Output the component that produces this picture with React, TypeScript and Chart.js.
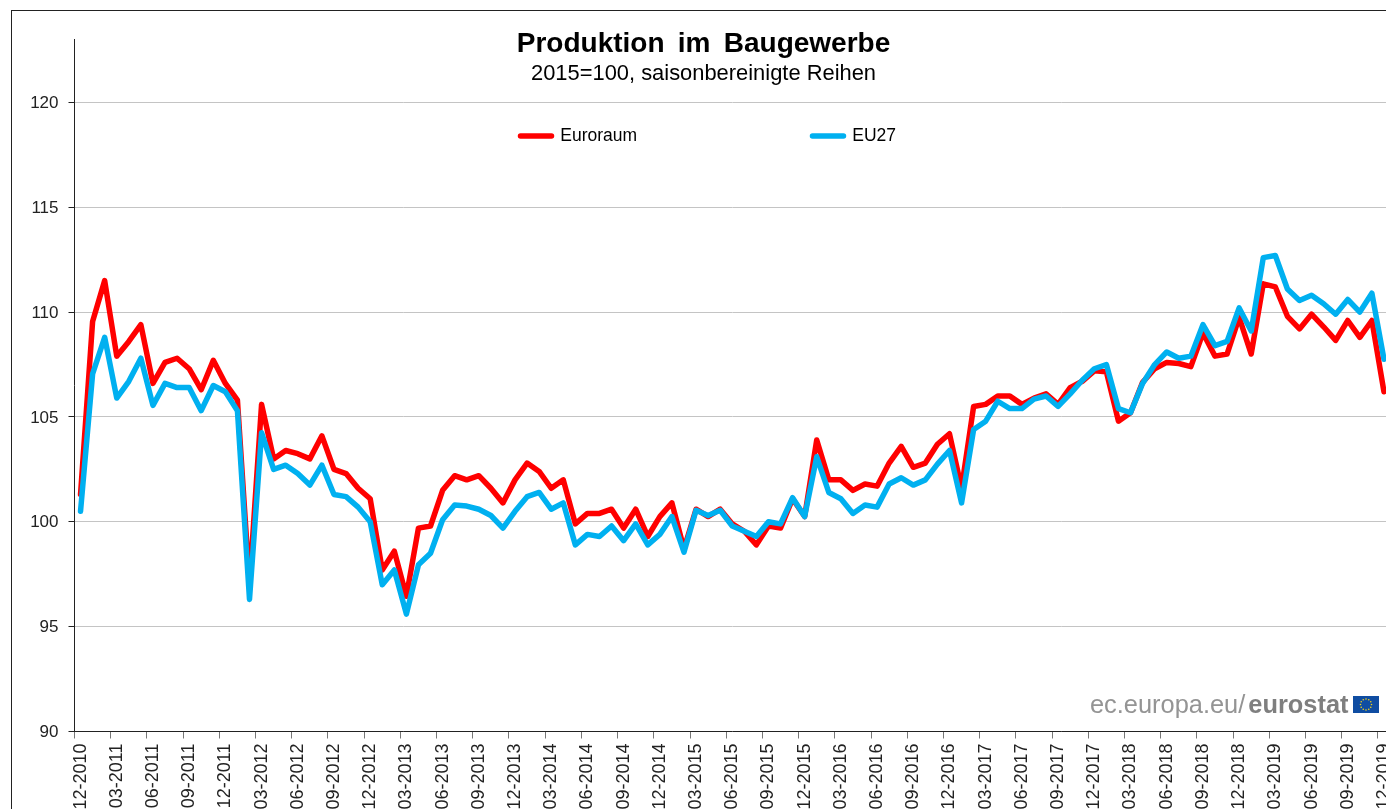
import React, { useEffect, useRef } from "react";
import { Chart, registerables } from "chart.js";

Chart.register(...registerables);

const CHART_TITLE = "Produktion im Baugewerbe";
const CHART_SUBTITLE = "2015=100, saisonbereinigte Reihen";
const SOURCE_PREFIX = "ec.europa.eu/";
const SOURCE_NAME = "eurostat";

const startYear = 2010;
const months = ["01", "02", "03", "04", "05", "06", "07", "08", "09", "10", "11", "12"];
const categories: string[] = [];
for (let i = 0; i < 109; i++) {
  const m = (11 + i) % 12;
  const y = startYear + Math.floor((11 + i) / 12);
  categories.push(`${months[m]}-${y}`);
}

const euroraum = [
  101.3, 109.55, 111.5, 107.9, 108.6, 109.4, 106.6, 107.6, 107.8, 107.3, 106.3, 107.7,
  106.6, 105.8, 97.0, 105.6, 103.0, 103.4, 103.25, 103.0, 104.1, 102.5, 102.3, 101.6,
  101.1, 97.7, 98.6, 96.45, 99.7, 99.8, 101.5, 102.2, 102.0, 102.2, 101.6, 100.9,
  102.0, 102.8, 102.4, 101.6, 102.0, 99.9, 100.4, 100.4, 100.6, 99.7, 100.6, 99.3,
  100.25, 100.9, 98.7, 100.6, 100.25, 100.6, 99.9, 99.55, 98.9, 99.8, 99.7, 101.1,
  100.25, 103.9, 102.0, 102.0, 101.5, 101.8, 101.7, 102.8, 103.6, 102.6, 102.8, 103.7,
  104.2, 101.6, 105.5, 105.6, 106.0, 106.0, 105.6, 105.9, 106.1, 105.6, 106.4, 106.7,
  107.2, 107.15, 104.8, 105.2, 106.65, 107.3, 107.6, 107.55, 107.4, 109.0, 107.9, 108.0,
  109.75, 108.0, 111.35, 111.2, 109.8, 109.2, 109.9, 109.3, 108.65, 109.6, 108.8, 109.6,
  106.2,
];

const eu27 = [
  100.5, 107.05, 108.8, 105.9, 106.7, 107.8, 105.55, 106.6, 106.4, 106.4, 105.3, 106.5,
  106.2, 105.3, 96.3, 104.25, 102.5, 102.7, 102.3, 101.75, 102.7, 101.3, 101.2, 100.7,
  100.0, 97.0, 97.7, 95.6, 97.95, 98.5, 100.1, 100.8, 100.75, 100.6, 100.3, 99.7,
  100.5, 101.2, 101.4, 100.6, 100.9, 98.9, 99.4, 99.3, 99.8, 99.1, 99.9, 98.9,
  99.4, 100.25, 98.55, 100.55, 100.3, 100.55, 99.8, 99.55, 99.3, 100.0, 99.9, 101.15,
  100.25, 103.1, 101.4, 101.1, 100.4, 100.8, 100.7, 101.8, 102.1, 101.75, 102.0, 102.75,
  103.4, 100.9, 104.4, 104.8, 105.75, 105.4, 105.4, 105.85, 106.0, 105.5, 106.1, 106.75,
  107.3, 107.5, 105.4, 105.2, 106.6, 107.5, 108.1, 107.8, 107.9, 109.4, 108.4, 108.6,
  110.2, 109.1, 112.6, 112.7, 111.1, 110.55, 110.8, 110.4, 109.9, 110.6, 110.0, 110.9,
  107.75,
];

const FONT = "'Liberation Sans', Arial, sans-serif";
const CANVAS_W = 1406;
const CANVAS_H = 830;

const pagePlugin = {
  id: "pageFurniture",
  afterLayout(chart: any) {
    for (const box of chart.boxes) {
      if (box.options?.text === CHART_TITLE) {
        box.top = 27;
        box.bottom = box.top + box.height;
        box.left = 0;
        box.right = 1407;
        if (!box.__spaced) {
          box.__spaced = true;
          const baseDraw = box.draw;
          box.draw = function (...args: any[]) {
            const ctx = chart.ctx;
            ctx.wordSpacing = "5.5px";
            baseDraw.apply(this, args);
            ctx.wordSpacing = "0px";
          };
        }
      } else if (box.options?.text === CHART_SUBTITLE) {
        box.top = 62;
        box.bottom = box.top + box.height;
        box.left = 0;
        box.right = 1407;
      }
    }
    const padding = chart.options.plugins.legend.labels.padding;
    chart.legend.left = 520.5 - padding;
    chart.legend.top = 136 - 8.75 - padding;
    chart.legend.right = 1400;
    chart.legend.bottom = 160;
  },
  beforeDraw(chart: any) {
    const { ctx } = chart;
    ctx.save();
    ctx.strokeStyle = "#222222";
    ctx.lineWidth = 1;
    ctx.strokeRect(11.5, 10.5, 1600, 1000);
    ctx.restore();
  },
  afterDraw(chart: any) {
    const { ctx } = chart;
    ctx.save();
    ctx.textBaseline = "alphabetic";
    ctx.textAlign = "left";
    ctx.fillStyle = "#949494";
    ctx.font = `25.4px ${FONT}`;
    const baseline = 713;
    const prefixWidth = ctx.measureText(SOURCE_PREFIX).width;
    const startX = 1090;
    ctx.fillText(SOURCE_PREFIX, startX, baseline);
    ctx.fillStyle = "#7f7f7f";
    ctx.font = `bold 25.4px ${FONT}`;
    ctx.fillText(SOURCE_NAME, startX + prefixWidth + 3, baseline);
    ctx.fillStyle = "#0f4da2";
    ctx.fillRect(1353, 696, 26, 17);
    ctx.fillStyle = "#f2d21b";
    for (let k = 0; k < 12; k++) {
      const a = (k / 12) * Math.PI * 2;
      ctx.beginPath();
      ctx.arc(1366 + Math.cos(a) * 5.5, 704.5 + Math.sin(a) * 5.5, 0.8, 0, Math.PI * 2);
      ctx.fill();
    }
    ctx.restore();
  },
};

export default function App() {
  const ref = useRef<HTMLCanvasElement | null>(null);

  useEffect(() => {
    if (!ref.current) return;
    const chart = new Chart(ref.current, {
      type: "line",
      data: {
        labels: categories,
        datasets: [
          {
            label: "Euroraum",
            data: euroraum,
            borderColor: "#ff0000",
            backgroundColor: "#ff0000",
            borderWidth: 5.5,
            pointRadius: 0,
            tension: 0,
            borderJoinStyle: "round",
            borderCapStyle: "round",
            order: 2,
          },
          {
            label: "EU27",
            data: eu27,
            borderColor: "#00b0f0",
            backgroundColor: "#00b0f0",
            borderWidth: 5.5,
            pointRadius: 0,
            tension: 0,
            borderJoinStyle: "round",
            borderCapStyle: "round",
            order: 1,
          },
        ],
      },
      options: {
        animation: false,
        responsive: false,
        devicePixelRatio: 1,
        layout: { padding: { top: -19.5, left: 0, right: 16, bottom: 0 } },
        plugins: {
          title: {
            display: true,
            text: CHART_TITLE,
            color: "#000000",
            padding: 0,
            font: { family: FONT, size: 28, weight: "bold", lineHeight: "34px" },
          },
          subtitle: {
            display: true,
            text: CHART_SUBTITLE,
            color: "#000000",
            padding: 0,
            font: { family: FONT, size: 21.9, weight: "normal", lineHeight: "24px" },
          },
          legend: {
            display: true,
            position: "top",
            align: "start",
            maxHeight: 1,
            labels: {
              boxWidth: 31,
              boxHeight: 0,
              padding: 175.4,
              color: "#000000",
              font: { family: FONT, size: 17.5 },
              sort: (a: any, b: any) => a.datasetIndex - b.datasetIndex,
            },
          },
          tooltip: { enabled: false },
        },
        scales: {
          x: {
            type: "category",
            offset: true,
            afterFit(scale: any) {
              scale.height = CANVAS_H - 731.5;
              scale.paddingLeft = 0;
              scale.paddingRight = 0;
            },
            border: { color: "#222222", width: 1 },
            grid: {
              offset: true,
              drawOnChartArea: false,
              tickLength: 7,
              tickColor: (ctx: any) => (ctx.index % 3 === 0 ? "#777777" : "rgba(0,0,0,0)"),
            },
            ticks: {
              autoSkip: false,
              minRotation: 90,
              maxRotation: 90,
              padding: 5,
              color: "#222222",
              font: { family: FONT, size: 18 },
              callback(this: any, _v: any, index: number) {
                return index % 3 === 0 ? categories[index] : "";
              },
            },
          },
          y: {
            min: 90,
            max: 123,
            afterFit(scale: any) {
              scale.width = 74.5;
            },
            border: { color: "#222222", width: 1 },
            grid: { color: "#c4c4c4", tickColor: "#222222", tickLength: 6, lineWidth: 1 },
            ticks: {
              stepSize: 5,
              includeBounds: false,
              padding: 10,
              labelOffset: 1,
              color: "#222222",
              font: { family: FONT, size: 17 },
            },
          },
        },
      },
      plugins: [pagePlugin],
    } as any);
    return () => chart.destroy();
  }, []);

  return (
    <div
      style={{
        position: "fixed",
        left: 0,
        top: 0,
        width: 1386,
        height: 809,
        overflow: "hidden",
        background: "#ffffff",
      }}
    >
      <canvas
        ref={ref}
        width={CANVAS_W}
        height={CANVAS_H}
        style={{ display: "block", width: CANVAS_W, height: CANVAS_H }}
      />
    </div>
  );
}
